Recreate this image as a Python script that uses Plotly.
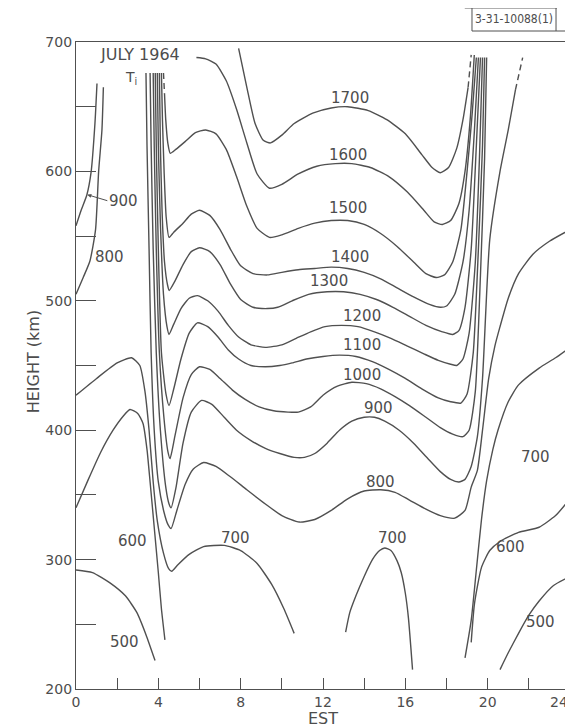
import plotly.graph_objects as go

# ---------------- contour lines (EST hours, height km) ----------------
est_1700 = [7.9, 8.3, 8.7, 9.1, 9.45, 10.0, 10.6, 11.5, 12.4, 13.2, 14.2, 15.1, 16.0, 16.8, 17.3, 17.7, 18.1, 18.5, 18.8, 19.05, 19.2]
km_1700 = [695, 665, 637, 624, 622, 628, 637, 645, 649, 650, 647, 640, 629, 613, 603, 599, 603, 618, 640, 665, 690]

est_1600 = [5.85, 6.3, 6.8, 7.3, 7.8, 8.3, 8.8, 9.4, 10.0, 10.8, 11.7, 12.6, 13.4, 14.3, 15.2, 16.1, 16.9, 17.4, 17.8, 18.2, 18.6, 18.9, 19.15, 19.35]
km_1600 = [688, 687, 683, 670, 648, 622, 598, 587, 590, 598, 604, 606, 606, 603, 596, 584, 570, 561, 559, 562, 575, 600, 640, 690]

est_1500 = [4.25, 4.3, 4.36, 4.46, 4.58, 4.85, 5.3, 5.8, 6.3, 6.8, 7.3, 7.8, 8.3, 8.8, 9.4, 10.0, 10.8, 11.6, 12.4, 13.2, 14.0, 14.8, 15.6, 16.4, 17.0, 17.5, 17.9, 18.3, 18.7, 19.0, 19.25, 19.45]
km_1500 = [676, 660, 640, 622, 614, 617, 623, 630, 632, 629, 617, 596, 573, 556, 549, 551, 556, 560, 562, 562, 559, 552, 542, 530, 521, 518, 520, 530, 555, 600, 645, 688]

est_1400 = [4.15, 4.2, 4.28, 4.38, 4.52, 4.75, 5.2, 5.6, 6.0, 6.5, 7.0, 7.5, 8.0, 8.6, 9.3, 10.0, 10.8, 11.6, 12.4, 13.2, 14.0, 14.8, 15.6, 16.4, 17.2, 17.7, 18.0, 18.4, 18.8, 19.1, 19.35, 19.55]
km_1400 = [676, 640, 600, 565, 549, 553, 560, 567, 570, 566, 555, 540, 527, 521, 520, 522, 524, 525, 526, 525, 522, 517, 510, 503, 497, 495, 496, 505, 530, 570, 630, 688]

est_1300 = [4.05, 4.1, 4.18, 4.3, 4.45, 4.53, 4.8, 5.2, 5.6, 6.0, 6.5, 7.0, 7.5, 8.0, 8.6, 9.3, 9.8, 10.5, 11.3, 12.2, 13.0, 13.8, 14.6, 15.4, 16.2, 17.0, 17.8, 18.3, 18.6, 18.9, 19.2, 19.45, 19.65]
km_1300 = [676, 620, 570, 530, 512, 508, 515, 528, 538, 541, 538, 528, 513, 501, 495, 494, 495, 500, 505, 507, 507, 505, 501, 495, 488, 481, 476, 474, 477, 495, 540, 620, 688]

est_1200 = [3.95, 4.0, 4.1, 4.25, 4.42, 4.52, 4.75, 5.1, 5.5, 5.9, 6.4, 6.9, 7.4, 7.9, 8.5, 9.2, 10.0, 10.7, 11.4, 12.1, 12.9, 13.7, 14.5, 15.3, 16.1, 16.9, 17.6, 18.2, 18.5, 18.8, 19.1, 19.4, 19.6, 19.75]
km_1200 = [676, 620, 560, 505, 480, 474, 482, 494, 502, 504, 500, 492, 481, 472, 466, 464, 466, 471, 476, 480, 481, 480, 476, 471, 465, 459, 454, 451, 450, 455, 475, 530, 610, 688]

est_1100 = [3.85, 3.9, 4.0, 4.15, 4.37, 4.52, 4.75, 5.1, 5.5, 5.9, 6.4, 6.9, 7.4, 7.9, 8.5, 9.2, 9.9, 10.5, 11.2, 12.0, 12.8, 13.6, 14.4, 15.2, 16.0, 16.8, 17.6, 18.2, 18.7, 19.0, 19.3, 19.55, 19.75, 19.85]
km_1100 = [676, 620, 540, 460, 428, 419, 432, 455, 475, 483, 480, 472, 462, 455, 450, 449, 450, 452, 455, 457, 458, 457, 453, 447, 440, 432, 425, 422, 421, 428, 460, 540, 620, 688]

est_1000 = [3.75, 3.8, 3.9, 4.05, 4.27, 4.47, 4.57, 4.8, 5.2, 5.6, 6.0, 6.5, 7.0, 7.6, 8.2, 8.9, 9.6, 10.3, 10.8, 11.4, 12.0, 12.7, 13.4, 14.1, 14.8, 15.5, 16.2, 17.0, 17.7, 18.3, 18.8, 19.1, 19.4, 19.65, 19.85, 19.95]
km_1000 = [676, 620, 540, 460, 410, 383, 378, 395, 425, 443, 449, 447, 440, 431, 424, 418, 415, 414, 414, 418, 427, 434, 437, 436, 432, 426, 419, 410, 402, 397, 395, 400, 430, 520, 610, 688]

est_900 = [3.6, 3.65, 3.75, 3.9, 4.1, 4.37, 4.52, 4.62, 4.85, 5.2, 5.6, 6.1, 6.6, 7.2, 7.8, 8.5, 9.2, 9.9, 10.6, 11.1, 11.6, 12.2, 12.8, 13.4, 14.0, 14.5, 15.0, 15.7, 16.4, 17.1, 17.7, 18.2, 18.6, 18.9, 19.2, 19.5, 19.75, 20.1, 20.6, 21.0, 21.35, 21.7]
km_900 = [676, 620, 540, 460, 400, 355, 343, 340, 355, 390, 414, 423, 420, 410, 400, 392, 386, 382, 379, 379, 382, 390, 400, 407, 410, 410, 407, 400, 390, 378, 368, 362, 360, 362, 372, 395, 440, 547, 600, 632, 663, 688]

est_900_left = [0.0, 0.25, 0.53, 0.73, 0.92, 1.02]
km_900_left = [558, 570, 582, 599, 637, 668]

est_800 = [3.4, 3.45, 3.55, 3.65, 3.8, 4.0, 4.27, 4.47, 4.62, 4.9, 5.3, 5.7, 6.2, 6.8, 7.5, 8.3, 9.2, 10.0, 10.85, 11.6, 12.4, 13.2, 14.0, 14.8, 15.5, 16.2, 17.0, 17.7, 18.4, 18.9, 19.2, 19.5, 19.75, 20.05, 20.35, 20.6, 21.0, 21.5, 22.2, 23.0, 24.0]
km_800 = [676, 620, 540, 460, 400, 360, 337, 327, 324, 338, 358, 370, 375, 372, 364, 354, 343, 334, 329, 331, 338, 347, 353, 354, 352, 346, 339, 334, 332, 338, 356, 369, 400, 440, 465, 480, 502, 521, 536, 546, 555]

est_800_left = [0.0, 0.35, 0.68, 0.95, 1.1, 1.26, 1.33]
km_800_left = [505, 518, 531, 555, 600, 632, 665]

est_700 = [0.0, 1.0, 2.0, 2.7, 3.1, 3.35, 3.55, 3.75, 3.95, 4.25, 4.5, 4.65, 4.95, 5.5, 6.2, 7.2, 8.0, 8.8, 9.5, 10.1, 10.6]
km_700 = [427, 440, 452, 456, 450, 430, 400, 360, 330, 305, 293, 291, 296, 304, 310, 311, 307, 297, 281, 262, 243]

est_700_mid = [13.1, 13.3, 13.6, 14.0, 14.4, 14.75, 15.0, 15.3, 15.6, 15.8, 16.0, 16.15, 16.35]
km_700_mid = [244, 259, 272, 287, 300, 307, 309, 307, 299, 290, 274, 255, 215]

est_700_right = [18.9, 19.2, 19.45, 19.7, 19.95, 20.25, 20.5, 21.0, 21.5, 22.5, 23.3, 24.0]
km_700_right = [224, 253, 292, 331, 361, 385, 400, 422, 435, 448, 456, 464]

est_600 = [0.0, 0.6, 1.2, 1.8, 2.3, 2.62, 3.0, 3.26, 3.45, 3.6, 3.8, 4.0, 4.15, 4.32]
km_600 = [340, 362, 383, 400, 411, 416, 413, 405, 385, 360, 325, 290, 262, 238]

est_600_right = [19.2, 19.36, 19.7, 20.1, 20.6, 21.5, 22.5, 23.3, 24.0]
km_600_right = [236, 266, 294, 307, 314, 321, 325, 334, 347]

est_500 = [0.0, 0.8, 1.65, 2.4, 2.96, 3.4, 3.84]
km_500 = [292, 290, 282, 272, 259, 242, 222]

est_500_right = [20.6, 21.0, 21.5, 22.0, 22.5, 23.2, 24.0]
km_500_right = [215, 228, 243, 257, 268, 280, 287]

# ---------------- contour labels ----------------
label_text = ["1700", "1600", "1500", "1400", "1300", "1200", "1100", "1000", "900", "800",
              "700", "700", "700", "600", "600", "500", "500", "800"]
label_est = [13.3, 13.2, 13.2, 13.3, 12.3, 13.9, 13.9, 13.9, 14.7, 14.8,
             7.75, 15.4, 22.3, 2.75, 21.1, 2.35, 22.55, 1.65]
label_km = [657, 613, 572, 534, 515, 488, 466, 443, 417, 360,
            317, 317, 379, 314, 310, 236, 252, 534]

x_tick_vals = [0, 2, 4, 6, 8, 10, 12, 14, 16, 18, 20, 22, 24]
x_tick_text = ["0", " ", "4", " ", "8", " ", "12", " ", "16", " ", "20", " ", " "]
y_tick_vals = [200, 250, 300, 350, 400, 450, 500, 550, 600, 650, 700]
y_tick_text = ["200", " ", "300", " ", "400", " ", "500", " ", "600", " ", "700"]

LINE = "#505050"
TXT = "#4d4d4d"
FONT = "DejaVu Sans"
TOP_CUT = 648  # above this height the near-vertical branches are drawn broken (dashed)

# (x, y, dash the left end at the top?, dash the right end at the top?)
curves = [
    (est_1700, km_1700, False, True), (est_1600, km_1600, False, True),
    (est_1500, km_1500, True, True), (est_1400, km_1400, True, True),
    (est_1300, km_1300, True, True), (est_1200, km_1200, True, True),
    (est_1100, km_1100, True, True), (est_1000, km_1000, True, True),
    (est_900, km_900, True, True), (est_900_left, km_900_left, False, True),
    (est_800, km_800, True, False), (est_800_left, km_800_left, False, True),
    (est_700, km_700, False, False), (est_700_mid, km_700_mid, False, False),
    (est_700_right, km_700_right, False, False),
    (est_600, km_600, False, False), (est_600_right, km_600_right, False, False),
    (est_500, km_500, False, False), (est_500_right, km_500_right, False, False),
]


def add_line(fig, xs, ys, dash):
    fig.add_trace(go.Scatter(x=xs, y=ys, mode="lines",
                             line=dict(color=LINE, width=1.4, shape="spline", smoothing=0.55,
                                       dash=dash),
                             hoverinfo="skip", showlegend=False))


fig = go.Figure()
for xs, ys, dl, dr in curves:
    i0, i1 = 0, len(xs) - 1
    if dl:
        while i0 < i1 and ys[i0 + 1] > TOP_CUT:
            i0 += 1
    if dr:
        while i1 > i0 and ys[i1 - 1] > TOP_CUT:
            i1 -= 1
    if i0 > 0:
        add_line(fig, xs[:i0 + 1], ys[:i0 + 1], "6px,4px")
    add_line(fig, xs[i0:i1 + 1], ys[i0:i1 + 1], "solid")
    if i1 < len(xs) - 1:
        add_line(fig, xs[i1:], ys[i1:], "6px,4px")

for t, xv, yv in zip(label_text, label_est, label_km):
    fig.add_annotation(x=xv, y=yv, text=t, showarrow=False,
                       font=dict(family=FONT, size=15, color=TXT))

# 900 label with arrow on the left
fig.add_annotation(x=0.55, y=582, text="900", showarrow=True, ax=20, ay=6,
                   arrowhead=2, arrowsize=0.8, arrowwidth=1, arrowcolor=LINE,
                   font=dict(family=FONT, size=15, color=TXT), xanchor="left")

fig.add_annotation(x=3.1, y=690, text="JULY 1964", showarrow=False, xanchor="center",
                   font=dict(family=FONT, size=16, color=TXT))
fig.add_annotation(x=2.65, y=672, text="T<sub>i</sub>", showarrow=False,
                   font=dict(family=FONT, size=14, color=TXT))

# last x tick label sits just inside the right frame, as in the original
fig.add_annotation(x=24, xref="x", yref="paper", y=-0.004, text="24", showarrow=False,
                   xanchor="right", yanchor="top", font=dict(family=FONT, size=14, color=TXT))

# axis titles
fig.add_annotation(xref="paper", yref="paper", x=-0.087, y=0.505, text="HEIGHT (km)",
                   textangle=-90, showarrow=False, xanchor="center", yanchor="middle",
                   font=dict(family=FONT, size=16, color=TXT))
fig.add_annotation(xref="paper", yref="paper", x=0.5, y=-0.045, text="EST",
                   showarrow=False, xanchor="center", yanchor="middle",
                   font=dict(family=FONT, size=16, color=TXT))

# drawing number box (top right)
box_line = dict(color=LINE, width=1)
fig.add_shape(type="line", xref="paper", yref="paper", x0=0.787, x1=0.9737, y0=1.0526, y1=1.0526, line=box_line)
fig.add_shape(type="line", xref="paper", yref="paper", x0=0.8016, x1=0.8016, y0=1.0526, y1=1.017, line=box_line)
fig.add_shape(type="line", xref="paper", yref="paper", x0=0.9717, x1=0.9717, y0=1.0526, y1=1.017, line=box_line)
fig.add_shape(type="line", xref="paper", yref="paper", x0=0.8016, x1=0.9899, y0=1.017, y1=1.017, line=box_line)
fig.add_annotation(xref="paper", yref="paper", x=0.8866, y=1.035, text="3-31-10088(1)",
                   showarrow=False, xanchor="center", yanchor="middle",
                   font=dict(family="DejaVu Sans Condensed, Liberation Sans Narrow, DejaVu Sans", size=12, color=TXT))

# the page body adds an 8 px margin, so the figure is 8 px smaller than the window
fig.update_layout(
    width=565, height=720,
    margin=dict(l=68, r=3, t=34, b=39),
    paper_bgcolor="white", plot_bgcolor="white",
    font=dict(family=FONT, size=14, color=TXT),
    xaxis=dict(range=[0, 24], tickvals=x_tick_vals, ticktext=x_tick_text,
               ticks="inside", ticklen=11, tickcolor=LINE, tickwidth=1.2,
               showline=True, mirror=True, linecolor=LINE, linewidth=1.3,
               showgrid=False, zeroline=False, automargin=False,
               tickfont=dict(family=FONT, size=14, color=TXT)),
    yaxis=dict(range=[200, 700], tickvals=y_tick_vals, ticktext=y_tick_text,
               ticks="inside", ticklen=20, tickcolor=LINE, tickwidth=1.2,
               showline=True, mirror=True, linecolor=LINE, linewidth=1.3,
               showgrid=False, zeroline=False, automargin=False,
               tickfont=dict(family=FONT, size=14, color=TXT)),
)

fig.write_html("out.html")
